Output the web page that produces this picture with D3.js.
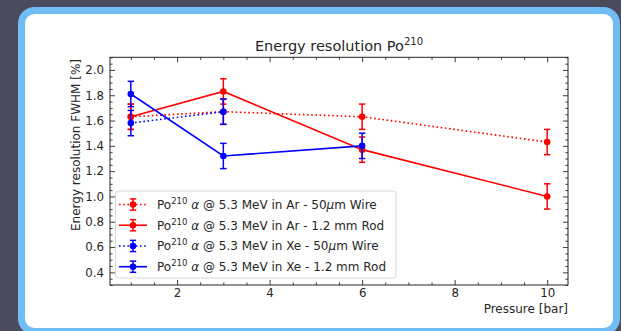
<!DOCTYPE html>
<html>
<head>
<meta charset="utf-8">
<script src="https://cdn.jsdelivr.net/npm/d3@7"></script>
<style>
  html, body { margin: 0; padding: 0; background: #4c4b5e; }
  svg { display: block; font-family: "DejaVu Sans", sans-serif; }
</style>
</head>
<body>
<svg id="chart" width="621" height="331"></svg>
<script>
// Energy resolution (FWHM, %) of the Po-210 alpha line versus gas pressure
const pressureAll = [1, 3, 6, 10];
const pressureXeWire = [1, 3];
const pressureXeRod = [1, 3, 6];

const resArWire = [1.63, 1.67, 1.63, 1.43];
const resArRod  = [1.63, 1.83, 1.37, 1.00];
const resXeWire = [1.58, 1.67];
const resXeRod  = [1.81, 1.32, 1.40];

const errArWire = [0.10, 0.10, 0.10, 0.10];
const errArRod  = [0.10, 0.10, 0.10, 0.10];
const errXeWire = [0.10, 0.10];
const errXeRod  = [0.10, 0.10, 0.10];

const gasNames = ["Ar", "Ar", "Xe", "Xe"];
const anodeNames = ["50μm Wire", "1.2 mm Rod", "50μm Wire", "1.2 mm Rod"];

const xTickValues = [2, 4, 6, 8, 10];
const yTickValues = [0.4, 0.6, 0.8, 1.0, 1.2, 1.4, 1.6, 1.8, 2.0];

const series = [
  { x: pressureAll,    y: resArWire, e: errArWire, color: "#ff0000", dotted: true,  gas: gasNames[0], anode: anodeNames[0] },
  { x: pressureAll,    y: resArRod,  e: errArRod,  color: "#ff0000", dotted: false, gas: gasNames[1], anode: anodeNames[1] },
  { x: pressureXeWire, y: resXeWire, e: errXeWire, color: "#0000ff", dotted: true,  gas: gasNames[2], anode: anodeNames[2] },
  { x: pressureXeRod,  y: resXeRod,  e: errXeRod,  color: "#0000ff", dotted: false, gas: gasNames[3], anode: anodeNames[3] }
];

const svg = d3.select("#chart");
const ink = "#262626";

// rounded slide panel behind the figure
svg.append("rect")
  .attr("x", 21.5).attr("y", 10.5)
  .attr("width", 595).attr("height", 321)
  .attr("rx", 13).attr("ry", 13)
  .attr("fill", "#ffffff")
  .attr("stroke", "#70bdf6")
  .attr("stroke-width", 7);

const plot = { left: 110, right: 568, top: 57.3, bottom: 285 };

const x = d3.scaleLinear().domain([0.55, 10.45]).range([plot.left, plot.right]);
const y = d3.scaleLinear().domain([0.3, 2.1]).range([plot.bottom, plot.top]);

const xMinor = d3.range(1, 10.01, 0.5).filter(v => !xTickValues.some(t => Math.abs(t - v) < 1e-6));
const yMinor = d3.range(0.3, 2.1001, 0.05).map(v => +v.toFixed(2))
  .filter(v => !yTickValues.some(t => Math.abs(t - v) < 1e-6));

function styleAxis(g) {
  g.select(".domain").remove();
  g.selectAll("line").attr("stroke", ink).attr("stroke-width", 0.9);
  g.selectAll("text").attr("fill", ink).attr("font-size", "11.8px")
    .attr("font-family", '"DejaVu Sans", sans-serif');
}

// inward-pointing ticks on all four sides
const axes = svg.append("g");
axes.append("g").attr("transform", `translate(0,${plot.bottom})`)
  .call(d3.axisBottom(x).tickValues(xTickValues).tickFormat(d3.format("d")).tickSize(-5).tickPadding(4))
  .call(styleAxis);
axes.append("g").attr("transform", `translate(0,${plot.bottom})`)
  .call(d3.axisBottom(x).tickValues(xMinor).tickFormat("").tickSize(-2.6))
  .call(styleAxis);
axes.append("g").attr("transform", `translate(0,${plot.top})`)
  .call(d3.axisTop(x).tickValues(xTickValues).tickFormat("").tickSize(-5))
  .call(styleAxis);
axes.append("g").attr("transform", `translate(0,${plot.top})`)
  .call(d3.axisTop(x).tickValues(xMinor).tickFormat("").tickSize(-2.6))
  .call(styleAxis);
axes.append("g").attr("transform", `translate(${plot.left},0)`)
  .call(d3.axisLeft(y).tickValues(yTickValues).tickFormat(d3.format(".1f")).tickSize(-5).tickPadding(6))
  .call(styleAxis);
axes.append("g").attr("transform", `translate(${plot.left},0)`)
  .call(d3.axisLeft(y).tickValues(yMinor).tickFormat("").tickSize(-2.6))
  .call(styleAxis);
axes.append("g").attr("transform", `translate(${plot.right},0)`)
  .call(d3.axisRight(y).tickValues(yTickValues).tickFormat("").tickSize(-5))
  .call(styleAxis);
axes.append("g").attr("transform", `translate(${plot.right},0)`)
  .call(d3.axisRight(y).tickValues(yMinor).tickFormat("").tickSize(-2.6))
  .call(styleAxis);

// data series: connecting line, error bars with caps, round markers
const line = d3.line().x(d => x(d[0])).y(d => y(d[1]));
const cap = 3.2;

series.forEach(s => {
  const pts = s.x.map((xv, i) => [xv, s.y[i], s.e[i]]);
  const g = svg.append("g");
  g.append("path")
    .attr("d", line(pts))
    .attr("fill", "none")
    .attr("stroke", s.color)
    .attr("stroke-width", 1.6)
    .attr("stroke-dasharray", s.dotted ? "1.6,2.6" : null);
  pts.forEach(p => {
    const cx = x(p[0]);
    const y0 = y(p[1] - p[2]);
    const y1 = y(p[1] + p[2]);
    g.append("line").attr("x1", cx).attr("x2", cx).attr("y1", y0).attr("y2", y1)
      .attr("stroke", s.color).attr("stroke-width", 1.5);
    [y0, y1].forEach(yy => g.append("line")
      .attr("x1", cx - cap).attr("x2", cx + cap).attr("y1", yy).attr("y2", yy)
      .attr("stroke", s.color).attr("stroke-width", 1.5));
    g.append("circle").attr("cx", cx).attr("cy", y(p[1])).attr("r", 3.3).attr("fill", s.color);
  });
});

// frame
svg.append("rect")
  .attr("x", plot.left).attr("y", plot.top)
  .attr("width", plot.right - plot.left).attr("height", plot.bottom - plot.top)
  .attr("fill", "none").attr("stroke", ink).attr("stroke-width", 1);

// title with superscript mass number
const title = svg.append("text")
  .attr("x", (plot.left + plot.right) / 2).attr("y", 51)
  .attr("text-anchor", "middle").attr("font-size", "14.5px").attr("fill", ink);
title.append("tspan").text("Energy resolution Po");
title.append("tspan").attr("font-size", "10px").attr("dy", "-6").text("210");

// axis labels
svg.append("text")
  .attr("transform", "translate(80,145) rotate(-90)")
  .attr("text-anchor", "middle").attr("font-size", "12px").attr("fill", ink)
  .text("Energy resolution FWHM [%]");
svg.append("text")
  .attr("x", plot.right).attr("y", 313)
  .attr("text-anchor", "end").attr("font-size", "12px").attr("fill", ink)
  .text("Pressure [bar]");

// legend
const legend = svg.append("g");
legend.append("rect")
  .attr("x", 115.5).attr("y", 191).attr("width", 280.5).attr("height", 87)
  .attr("rx", 3).attr("ry", 3)
  .attr("fill", "#ffffff").attr("fill-opacity", 0.85)
  .attr("stroke", "#d4d4d4").attr("stroke-width", 0.9);

const rowY = d3.scaleLinear().domain([0, 3]).range([204.5, 266.7]);
series.forEach((s, i) => {
  const cy = rowY(i);
  const g = legend.append("g");
  g.append("line").attr("x1", 119).attr("x2", 147).attr("y1", cy).attr("y2", cy)
    .attr("stroke", s.color).attr("stroke-width", 1.6)
    .attr("stroke-dasharray", s.dotted ? "1.6,2.6" : null);
  g.append("line").attr("x1", 133).attr("x2", 133).attr("y1", cy - 5.6).attr("y2", cy + 5.6)
    .attr("stroke", s.color).attr("stroke-width", 1.5);
  [cy - 5.6, cy + 5.6].forEach(yy => g.append("line")
    .attr("x1", 133 - cap).attr("x2", 133 + cap).attr("y1", yy).attr("y2", yy)
    .attr("stroke", s.color).attr("stroke-width", 1.5));
  g.append("circle").attr("cx", 133).attr("cy", cy).attr("r", 3.3).attr("fill", s.color);

  const t = g.append("text").attr("x", 157).attr("y", cy + 4.3)
    .attr("font-size", "12px").attr("fill", ink);
  t.append("tspan").text("Po");
  t.append("tspan").attr("font-size", "8.5px").attr("dy", "-5").text("210");
  t.append("tspan").attr("dy", "5").text(" ");
  t.append("tspan").attr("font-style", "italic").text("α");
  const parts = s.anode.split("μ");
  t.append("tspan").text(` @ 5.3 MeV in ${s.gas} - ${parts.length > 1 ? parts[0] : parts[0]}`);
  if (parts.length > 1) {
    t.append("tspan").attr("font-style", "italic").text("μ");
    t.append("tspan").text(parts[1]);
  }
});
</script>
</body>
</html>
